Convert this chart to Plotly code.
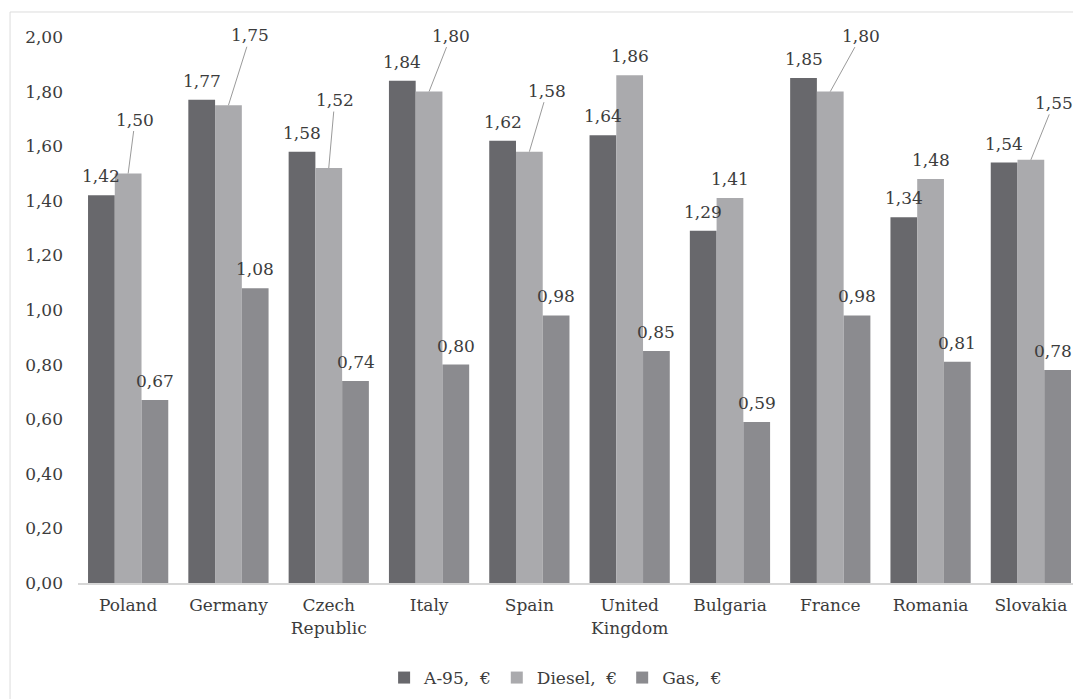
import plotly.graph_objects as go

# Fuel prices per country, euro per litre
countries = ["Poland", "Germany", "Czech<br>Republic", "Italy", "Spain",
             "United<br>Kingdom", "Bulgaria", "France", "Romania", "Slovakia"]
a95 = [1.42, 1.77, 1.58, 1.84, 1.62, 1.64, 1.29, 1.85, 1.34, 1.54]
diesel = [1.50, 1.75, 1.52, 1.80, 1.58, 1.86, 1.41, 1.80, 1.48, 1.55]
gas = [0.67, 1.08, 0.74, 0.80, 0.98, 0.85, 0.59, 0.98, 0.81, 0.78]
y_ticks = [0.0, 0.2, 0.4, 0.6, 0.8, 1.0, 1.2, 1.4, 1.6, 1.8, 2.0]

series = [
    ("A-95,\u00a0 €", a95, "#68686c"),
    ("Diesel,\u00a0 €", diesel, "#aaaaad"),
    ("Gas,\u00a0 €", gas, "#8b8b8f"),
]

FONT = "DejaVu Serif"
TEXT = "#3c3c3c"

fig = go.Figure()
for name, vals, color in series:
    fig.add_trace(go.Bar(
        x=countries, y=vals, name=name,
        marker=dict(color=color, line=dict(width=0)),
        hoverinfo="skip",
    ))

# label offsets (pixels) for the diesel values that sit on leader lines
leaders = {0: (7, -54), 1: (22, -70), 2: (6, -68), 3: (22, -56),
           4: (18, -61), 7: (31, -56), 9: (23, -57)}

bar_w = 0.8 / 3
last = len(countries) - 1
annotations = []
for s, (name, vals, color) in enumerate(series):
    shift = (s - 1) * bar_w
    for i, v in enumerate(vals):
        label = f"{v:.2f}".replace(".", ",")
        if s == 1 and i in leaders:
            ax, ay = leaders[i]
            annotations.append(dict(
                x=i + shift, y=v, xref="x", yref="y", text=label,
                showarrow=True, arrowhead=0, arrowwidth=1,
                arrowcolor="#9a9a9a", ax=ax, ay=ay, standoff=0,
                font=dict(family=FONT, size=17, color=TEXT),
            ))
        else:
            # keep the right-most gas label inside the page
            xs = -5 if (s == 2 and i == last) else 0
            annotations.append(dict(
                x=i + shift, y=v, xref="x", yref="y", text=label,
                showarrow=False, yanchor="middle", yshift=19, xshift=xs,
                font=dict(family=FONT, size=17, color=TEXT),
            ))

fig.update_layout(
    width=1073, height=699,
    margin=dict(l=78, r=0, t=37, b=116),
    paper_bgcolor="white", plot_bgcolor="white",
    barmode="group", bargap=0.2, bargroupgap=0,
    separators=", ",
    font=dict(family=FONT, size=17, color=TEXT),
    annotations=annotations,
    showlegend=True,
    legend=dict(
        orientation="h", x=0.48, xanchor="center", y=-0.174, yanchor="middle",
        font=dict(family=FONT, size=17, color=TEXT),
        itemwidth=30, traceorder="normal",
    ),
    shapes=[dict(
        type="rect", xref="paper", yref="paper",
        x0=-0.0683, x1=1.2, y0=-0.4, y1=1.0458,
        line=dict(color="#dcdcdc", width=1), fillcolor="rgba(0,0,0,0)",
        layer="below",
    )],
)
fig.update_xaxes(
    range=[-0.5, 9.42], showgrid=False, showline=True,
    linecolor="#d6d6d6", linewidth=2, ticks="", zeroline=False,
    ticklabelstandoff=6,
    tickfont=dict(family=FONT, size=17, color=TEXT),
)
fig.update_yaxes(
    range=[0, 2.0], tickvals=y_ticks, tickformat=".2f",
    showgrid=False, showline=False, zeroline=False, ticks="",
    ticklabelstandoff=14,
    tickfont=dict(family=FONT, size=17, color=TEXT),
)

fig.write_html("out.html")
